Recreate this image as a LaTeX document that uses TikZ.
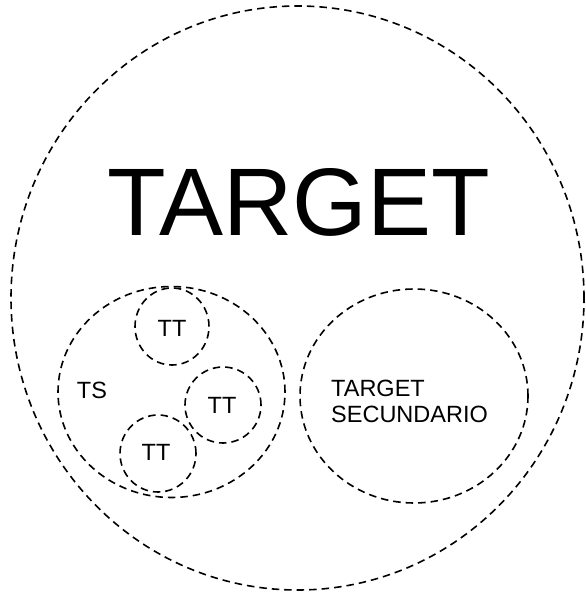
\documentclass[tikz,border=0pt]{standalone}
\usepackage{fontspec}
\setmainfont{Liberation Sans}
\usetikzlibrary{shapes.geometric}
\begin{document}
\begin{tikzpicture}[x=1pt,y=-1pt,
  ring/.style={draw=black, ellipse, line width=1.6pt, dash pattern=on 7.5pt off 5pt, inner sep=0pt},
  lbl/.style={font=\fontsize{23.5pt}{26pt}\selectfont, inner sep=0pt}]
\useasboundingbox (0,0) rectangle (585,593);
\node[ring, minimum width=573pt, minimum height=584pt] (big) at (297.5,298) {};
\node[font=\fontsize{96pt}{100pt}\selectfont, inner sep=0pt] (target) at (299,202) {TARGET};
\node[ring, minimum width=227pt, minimum height=211pt] (ts) at (171.5,392) {};
\node[ring, minimum width=74pt, minimum height=77pt] (tt1) at (172,326.5) {};
\node[ring, minimum width=76pt, minimum height=76pt] (tt2) at (223,405) {};
\node[ring, minimum width=76pt, minimum height=77pt] (tt3) at (158,453.5) {};
\node[lbl] (tsl) at (92,390) {TS};
\node[lbl] (tt1l) at (172,328) {TT};
\node[lbl] (tt2l) at (222,405) {TT};
\node[lbl] (tt3l) at (156,452) {TT};
\node[ring, minimum width=228pt, minimum height=214pt] (sec) at (414,396) {};
\node[lbl, align=left, anchor=west] (secl) at (331,401) {TARGET\\SECUNDARIO};
\end{tikzpicture}
\end{document}
